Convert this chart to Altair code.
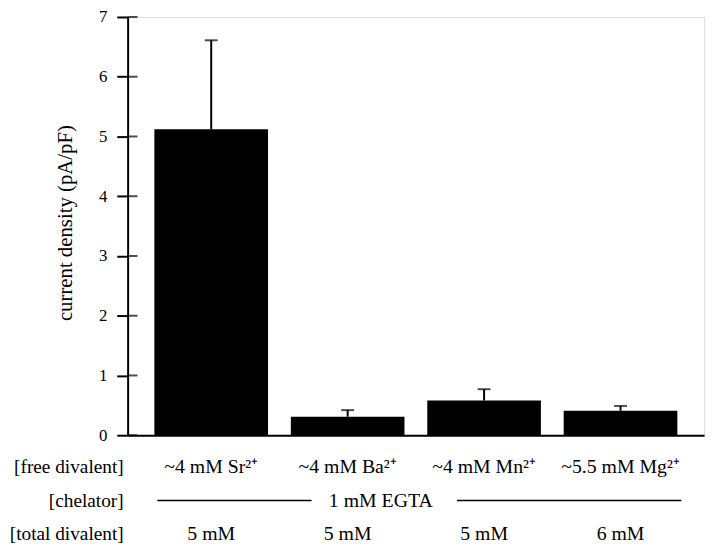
import altair as alt
import pandas as pd

# ---- data ----
categories = ["Sr", "Ba", "Mn", "Mg"]
free_labels = ["~4 mM Sr²⁺", "~4 mM Ba²⁺", "~4 mM Mn²⁺", "~5.5 mM Mg²⁺"]
means = [5.12, 0.31, 0.58, 0.41]
errors = [1.49, 0.11, 0.19, 0.08]
total_labels = ["5 mM", "5 mM", "5 mM", "6 mM"]
row_labels = ["[free divalent]", "[chelator]", "[total divalent]"]
chelator_label = ["1 mM EGTA"]
y_ticks = [0, 1, 2, 3, 4, 5, 6, 7]

df = pd.DataFrame({
    "cat": categories,
    "free": free_labels,
    "mean": means,
    "err": errors,
    "total": total_labels,
})

W, H = 583, 423
FONT = "Liberation Serif"

x_enc = alt.X(
    "cat:N",
    sort=categories,
    scale=alt.Scale(paddingInner=0.167, paddingOuter=0.196),
    axis=alt.Axis(labels=False, ticks=False, title=None,
                  domainColor="black", domainWidth=2),
)
y_scale = alt.Scale(domain=[0, 7], nice=False, zero=True)
y_axis = alt.Axis(
    values=y_ticks, grid=False, title="current density (pA/pF)",
    tickSize=11, tickWidth=2, tickColor="black",
    domainColor="black", domainWidth=2,
    labelFont=FONT, labelFontSize=17, labelColor="black", labelPadding=10,
    titleFont=FONT, titleFontSize=21, titleFontWeight="normal",
    titleColor="black", titleX=-57, titleY=208,
    titleBaseline="alphabetic", titleAlign="center", titleAngle=270,
)

base = alt.Chart(df)

bars = base.mark_bar(color="black").encode(
    x=x_enc,
    y=alt.Y("mean:Q", scale=y_scale, axis=y_axis, title="current density (pA/pF)"),
)

err_base = base.transform_calculate(upper="datum.mean + datum.err")

err_rule = err_base.mark_rule(color="black", strokeWidth=2).encode(
    x=x_enc,
    y=alt.Y("mean:Q", scale=y_scale, axis=y_axis, title="current density (pA/pF)"),
    y2="upper:Q",
)

err_cap = err_base.mark_tick(
    color="black", orient="horizontal", size=13, thickness=2
).encode(
    x=x_enc,
    y=alt.Y("upper:Q", scale=y_scale, axis=y_axis, title="current density (pA/pF)"),
)

inner_ticks = alt.Chart(pd.DataFrame({"v": y_ticks})).mark_tick(
    color="black", orient="horizontal", size=10, thickness=2
).encode(
    x=alt.value(5),
    y=alt.Y("v:Q", scale=y_scale, axis=y_axis, title="current density (pA/pF)"),
)

txt = dict(font=FONT, fontSize=20, color="black", baseline="alphabetic")

free_text = base.mark_text(**txt).encode(
    x=x_enc, y=alt.value(461), text="free:N"
)
total_text = base.mark_text(**txt).encode(
    x=x_enc, y=alt.value(529), text="total:N"
)

row_ys = [461, 496, 529]
row_layers = []
for lab, yy in zip(row_labels, row_ys):
    row_layers.append(
        alt.Chart(pd.DataFrame({"label": [lab]})).mark_text(
            align="right", font=FONT, fontSize=19.5, color="black", baseline="alphabetic"
        ).encode(x=alt.value(-4), y=alt.value(yy), text="label:N")
    )

chel_text = alt.Chart(pd.DataFrame({"label": chelator_label})).mark_text(**txt).encode(
    x=alt.value(256), y=alt.value(496), text="label:N"
)
chel_line1 = alt.Chart(pd.DataFrame({"label": chelator_label})).mark_rule(
    color="black", strokeWidth=1.5
).encode(x=alt.value(30), x2=alt.value(186), y=alt.value(489))
chel_line2 = alt.Chart(pd.DataFrame({"label": chelator_label})).mark_rule(
    color="black", strokeWidth=1.5
).encode(x=alt.value(333), x2=alt.value(560), y=alt.value(489))

chart = alt.layer(
    bars, err_rule, err_cap, inner_ticks, free_text, total_text,
    *row_layers, chel_text, chel_line1, chel_line2,
).properties(
    width=W, height=H,
    padding={"left": 121, "top": 6, "right": 8, "bottom": 112},
    autosize=alt.AutoSizeParams(type="none"),
).configure_view(stroke=None).configure(
    background="white", font=FONT
).configure_axis(
    labelFont=FONT, titleFont=FONT, labelFontSize=17
)

chart.save("out.html", embed_options={"renderer": "svg", "actions": False})
